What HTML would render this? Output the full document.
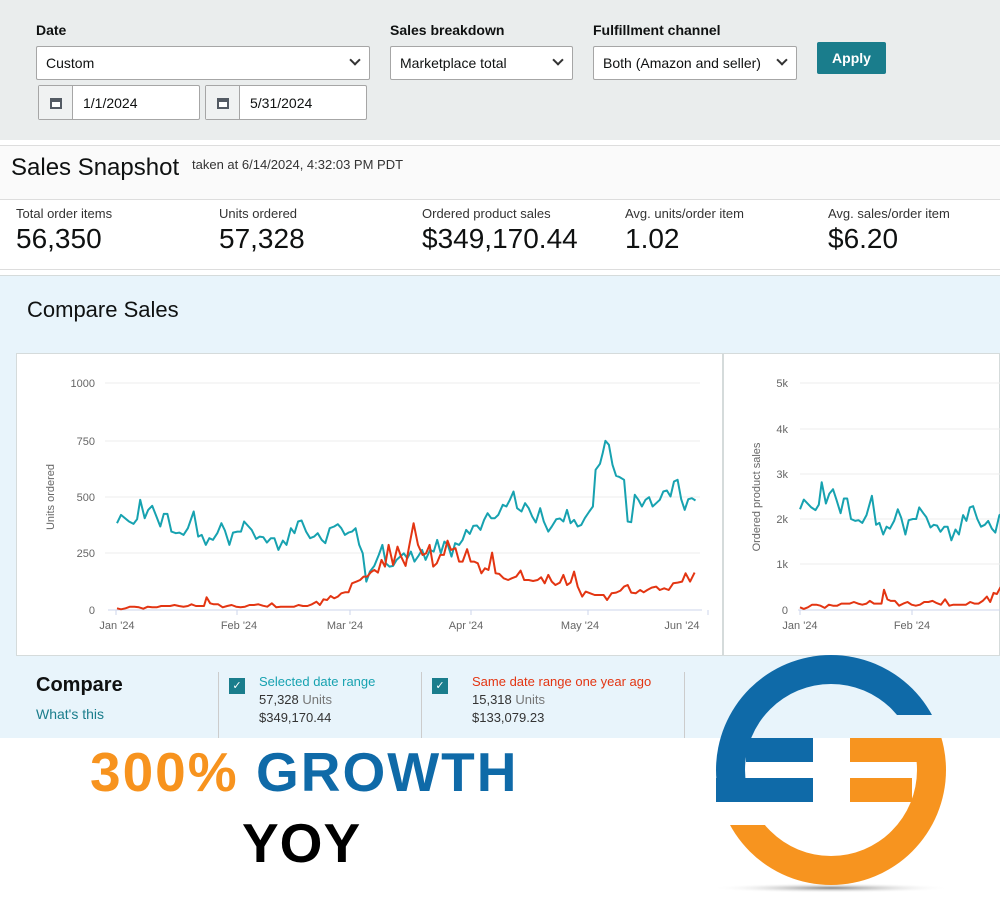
<!DOCTYPE html>
<html><head><meta charset="utf-8">
<style>
*{box-sizing:border-box;margin:0;padding:0}
body{width:1000px;height:900px;overflow:hidden;background:#fff;font-family:"Liberation Sans","DejaVu Sans",sans-serif;color:#0f1111;position:relative}
.a{position:absolute}
.lbl{font-size:14px;font-weight:bold;color:#0f1111}
.box{background:#fff;border:1px solid #a6a6a6;border-radius:2px;font-size:14px;color:#0f1111;padding-left:9px;display:flex;align-items:center}
.chev{position:absolute;right:10px;top:9px;width:8px;height:8px;border-right:2px solid #333;border-bottom:2px solid #333;transform:rotate(45deg)}
.cal{width:34px;height:100%;border-right:1px solid #a6a6a6;background:#f0f2f2;display:flex;align-items:center;justify-content:center}
.mk{font-size:13px;color:#333}
.mv{font-size:28px;color:#0f1111}
.cb{width:16px;height:16px;background:#1a7d8c;color:#fff;font-size:11px;text-align:center;line-height:16px}
.s{font-size:13px;color:#333}
</style></head><body>
<div class="a" style="left:0;top:0;width:1000px;height:140px;background:#eaeded"></div>
<div class="a lbl" style="left:36px;top:22px">Date</div>
<div class="a box" style="left:36px;top:46px;width:334px;height:34px">Custom<div class="chev"></div></div>
<div class="a box" style="left:38px;top:85px;width:162px;height:35px;padding:0"><div class="cal"><svg width="14" height="14"><rect x="1" y="2" width="12" height="11" fill="#545b64"/><rect x="3" y="6" width="8" height="5" fill="#fff"/></svg></div><span style="padding-left:10px">1/1/2024</span></div>
<div class="a box" style="left:205px;top:85px;width:162px;height:35px;padding:0"><div class="cal"><svg width="14" height="14"><rect x="1" y="2" width="12" height="11" fill="#545b64"/><rect x="3" y="6" width="8" height="5" fill="#fff"/></svg></div><span style="padding-left:10px">5/31/2024</span></div>
<div class="a lbl" style="left:390px;top:22px">Sales breakdown</div>
<div class="a box" style="left:390px;top:46px;width:183px;height:34px">Marketplace total<div class="chev"></div></div>
<div class="a lbl" style="left:593px;top:22px">Fulfillment channel</div>
<div class="a box" style="left:593px;top:46px;width:204px;height:34px">Both (Amazon and seller)<div class="chev"></div></div>
<div class="a" style="left:817px;top:42px;width:69px;height:32px;background:#1a7d8c;border-radius:2px;color:#fff;font-size:14px;font-weight:bold;text-align:center;line-height:32px">Apply</div>

<div class="a" style="left:0;top:145px;width:1000px;height:55px;background:#fafafa;border-top:1px solid #ddd;border-bottom:1px solid #ddd"></div>
<div class="a" style="left:11px;top:154px;font-size:24px;color:#0f1111">Sales Snapshot</div>
<div class="a" style="left:192px;top:157px;font-size:13px;color:#333">taken at 6/14/2024, 4:32:03 PM PDT</div>
<div class="a mk" style="left:16px;top:206px">Total order items</div><div class="a mv" style="left:16px;top:223px">56,350</div>
<div class="a mk" style="left:219px;top:206px">Units ordered</div><div class="a mv" style="left:219px;top:223px">57,328</div>
<div class="a mk" style="left:422px;top:206px">Ordered product sales</div><div class="a mv" style="left:422px;top:223px">$349,170.44</div>
<div class="a mk" style="left:625px;top:206px">Avg. units/order item</div><div class="a mv" style="left:625px;top:223px">1.02</div>
<div class="a mk" style="left:828px;top:206px">Avg. sales/order item</div><div class="a mv" style="left:828px;top:223px">$6.20</div>
<div class="a" style="left:0;top:269px;width:1000px;height:1px;background:#ddd"></div>

<div class="a" style="left:0;top:275px;width:1000px;height:463px;background:#e8f4fb;border-top:1px solid #d5dbdb"></div>
<div class="a" style="left:27px;top:297px;font-size:22px;color:#0f1111">Compare Sales</div>
<div class="a" style="left:16px;top:353px;width:707px;height:303px;background:#fff;border:1px solid #d5dbdb"></div>
<div class="a" style="left:723px;top:353px;width:277px;height:303px;background:#fff;border:1px solid #d5dbdb"></div>

<svg class="a" style="left:0;top:0" width="1000" height="900" id="ch">
<g font-size="11" fill="#666" text-anchor="end">
<line x1="105" y1="383" x2="700" y2="383" stroke="#eee"/><text x="95" y="387">1000</text>
<line x1="105" y1="441" x2="700" y2="441" stroke="#eee"/><text x="95" y="445">750</text>
<line x1="105" y1="497" x2="700" y2="497" stroke="#eee"/><text x="95" y="501">500</text>
<line x1="105" y1="553" x2="700" y2="553" stroke="#eee"/><text x="95" y="557">250</text>
<text x="95" y="614">0</text>
<line x1="108" y1="610" x2="702" y2="610" stroke="#ccd6eb"/>
<text x="788" y="387">5k</text><line x1="800" y1="383" x2="1000" y2="383" stroke="#eee"/>
<text x="788" y="433">4k</text><line x1="800" y1="429" x2="1000" y2="429" stroke="#eee"/>
<text x="788" y="478">3k</text><line x1="800" y1="474" x2="1000" y2="474" stroke="#eee"/>
<text x="788" y="523">2k</text><line x1="800" y1="519" x2="1000" y2="519" stroke="#eee"/>
<text x="788" y="568">1k</text><line x1="800" y1="564" x2="1000" y2="564" stroke="#eee"/>
<text x="788" y="614">0</text><line x1="798" y1="610" x2="1000" y2="610" stroke="#ccd6eb"/>
</g>
<g font-size="11" fill="#666" text-anchor="middle">
<text x="117" y="629">Jan '24</text><text x="239" y="629">Feb '24</text><text x="345" y="629">Mar '24</text><text x="466" y="629">Apr '24</text><text x="580" y="629">May '24</text><text x="682" y="629">Jun '24</text>
<text x="800" y="629">Jan '24</text><text x="912" y="629">Feb '24</text>
<text transform="translate(54,497) rotate(-90)">Units ordered</text>
<text transform="translate(760,497) rotate(-90)">Ordered product sales</text>
</g>
<g stroke="#ccd6eb"><line x1="116" y1="610" x2="116" y2="615"/><line x1="237" y1="610" x2="237" y2="615"/><line x1="350" y1="610" x2="350" y2="615"/><line x1="471" y1="610" x2="471" y2="615"/><line x1="588" y1="610" x2="588" y2="615"/><line x1="708" y1="610" x2="708" y2="615"/><line x1="800" y1="610" x2="800" y2="615"/><line x1="912" y1="610" x2="912" y2="615"/></g>
<clipPath id="rc"><rect x="795" y="370" width="205" height="250"/></clipPath>
<polyline id="t1" fill="none" stroke="#17a2b0" stroke-width="2" stroke-linejoin="round"/>
<polyline id="r1" fill="none" stroke="#e33512" stroke-width="2" stroke-linejoin="round"/>
<g clip-path="url(#rc)"><polyline id="t2" fill="none" stroke="#17a2b0" stroke-width="2" stroke-linejoin="round"/>
<polyline id="r2" fill="none" stroke="#e33512" stroke-width="2" stroke-linejoin="round"/></g>
</svg>

<div class="a" style="left:36px;top:674px;font-size:20px;font-weight:bold;color:#0f1111">Compare</div>
<div class="a" style="left:36px;top:706px;font-size:14px;color:#1a7d8c">What's this</div>
<div class="a" style="left:218px;top:672px;width:1px;height:66px;background:#ccc"></div>
<div class="a" style="left:421px;top:672px;width:1px;height:66px;background:#ccc"></div>
<div class="a" style="left:684px;top:672px;width:1px;height:66px;background:#ccc"></div>
<div class="a cb" style="left:229px;top:678px">✓</div>
<div class="a" style="left:259px;top:674px;font-size:13px;color:#17a2b0">Selected date range</div>
<div class="a s" style="left:259px;top:692px">57,328 <span style="color:#777">Units</span></div>
<div class="a s" style="left:259px;top:710px">$349,170.44</div>
<div class="a cb" style="left:432px;top:678px">✓</div>
<div class="a" style="left:472px;top:674px;font-size:13px;color:#e33512">Same date range one year ago</div>
<div class="a s" style="left:472px;top:692px">15,318 <span style="color:#777">Units</span></div>
<div class="a s" style="left:472px;top:710px">$133,079.23</div>

<div class="a" style="left:90px;top:740px;font-size:55px;font-weight:bold;letter-spacing:2px;white-space:nowrap;line-height:64px"><span style="color:#f7931e">300%</span> <span style="color:#0f6aa8">GROWTH</span></div>
<div class="a" style="left:242px;top:811px;font-size:55px;font-weight:bold;color:#000;letter-spacing:1px;line-height:64px">YOY</div>

<svg class="a" style="left:0;top:0" width="1000" height="900">
<defs>
<radialGradient id="sh"><stop offset="0" stop-color="#888"/><stop offset="1" stop-color="#fff" stop-opacity="0"/></radialGradient>
<mask id="ring"><rect width="1000" height="900" fill="#000"/><circle cx="831" cy="770" r="115" fill="#fff"/><circle cx="831" cy="770" r="86" fill="#000"/></mask>
</defs>
<ellipse cx="831" cy="888" rx="120" ry="5" fill="url(#sh)"/>
<g mask="url(#ring)">
<rect x="700" y="640" width="300" height="75" fill="#0f6aa8"/>
<rect x="700" y="640" width="131" height="162" fill="#0f6aa8"/>
<rect x="700" y="825" width="300" height="80" fill="#f7941f"/>
<rect x="831" y="738" width="170" height="170" fill="#f7941f"/>
</g>
<rect x="746" y="738" width="67" height="24" fill="#0f6aa8"/>
<rect x="716" y="778" width="97" height="24" fill="#0f6aa8"/>
<rect x="850" y="738" width="67" height="24" fill="#f7941f"/>
<rect x="850" y="778" width="62" height="24" fill="#f7941f"/>
</svg>

<script>
var T=[213,490,222,465,240,485,250,492,258,478,265,420,275,475,283,450,292,438,300,465,310,500,318,462,326,462,335,515,345,520,353,518,362,525,372,505,385,455,395,530,403,525,412,555,420,535,428,540,438,520,447,490,455,512,465,555,473,518,483,515,491,515,498,485,508,500,515,510,525,537,533,530,541,532,549,548,558,535,566,535,575,570,585,542,593,555,603,505,611,520,619,485,627,482,637,515,646,535,655,530,663,520,672,540,680,550,690,505,700,500,708,493,716,505,724,525,732,518,740,515,748,505,756,555,764,580,772,665,780,635,790,618,800,585,808,555,816,610,824,620,832,618,840,600,848,590,856,580,864,595,872,575,880,605,888,590,897,570,905,600,915,570,923,575,931,540,939,580,947,545,955,555,963,590,971,550,980,555,988,540,996,510,1004,522,1012,498,1020,497,1028,510,1036,480,1044,460,1052,475,1060,475,1068,465,1078,435,1086,440,1094,420,1102,395,1110,445,1120,455,1128,430,1136,445,1144,470,1152,488,1162,445,1170,485,1180,515,1188,500,1198,478,1206,476,1214,485,1222,450,1230,490,1238,480,1246,500,1254,495,1262,475,1272,455,1280,440,1286,330,1296,312,1302,280,1308,243,1316,255,1324,315,1332,348,1340,352,1350,360,1358,485,1366,487,1374,405,1382,420,1390,440,1398,420,1406,412,1414,440,1422,430,1430,420,1438,395,1446,392,1454,410,1462,365,1470,360,1478,418,1486,450,1494,418,1502,415,1510,422];
var R=[213,745,222,748,232,745,242,740,252,740,262,742,272,746,282,740,292,742,302,742,312,738,322,738,332,738,342,735,352,738,362,740,372,738,380,733,390,738,400,738,408,738,414,712,422,730,430,733,440,733,450,742,460,738,470,735,480,740,490,742,500,740,510,735,520,735,530,733,540,737,550,740,560,730,570,742,580,740,590,740,600,740,610,740,620,735,630,738,640,738,650,733,660,725,668,735,676,718,684,720,692,708,700,715,708,710,716,700,724,697,732,697,740,670,750,665,758,660,766,650,774,650,782,637,790,630,798,638,806,600,814,620,822,555,832,615,842,560,850,590,860,618,868,560,878,490,888,555,898,585,906,580,914,555,922,620,930,610,938,585,946,585,954,542,962,570,972,565,980,605,988,605,998,568,1006,605,1014,605,1022,610,1030,640,1038,625,1046,630,1054,578,1062,640,1070,642,1080,655,1090,660,1098,655,1108,650,1118,632,1126,660,1136,660,1146,663,1156,660,1164,652,1172,670,1180,645,1188,665,1196,675,1206,668,1214,645,1222,675,1230,668,1238,635,1246,680,1256,710,1264,695,1274,700,1284,705,1294,705,1304,705,1312,720,1322,700,1332,698,1342,692,1350,680,1358,675,1366,698,1376,700,1386,690,1394,697,1402,690,1412,683,1422,680,1430,690,1440,685,1450,690,1460,670,1470,668,1480,665,1488,640,1498,665,1508,638];
function left(a){var s=[];for(var i=0;i<a.length;i+=2){var d=(a[i]-213)/8.61,v=(750-a[i+1])/0.68;s.push((117+d*3.84).toFixed(1)+','+(610-v*0.227).toFixed(1));}return s.join(' ');}
function right(a,f){var s=[];for(var i=0;i<a.length;i+=2){var d=(a[i]-213)/8.61,v=(750-a[i+1])/0.68*f;if(d>60)break;s.push((800+d*3.6).toFixed(1)+','+(610-v*0.0454).toFixed(1));}return s.join(' ');}
document.getElementById('t1').setAttribute('points',left(T));
document.getElementById('r1').setAttribute('points',left(R));
document.getElementById('t2').setAttribute('points',right(T,5.8));
document.getElementById('r2').setAttribute('points',right(R,8));
</script>
</body></html>
